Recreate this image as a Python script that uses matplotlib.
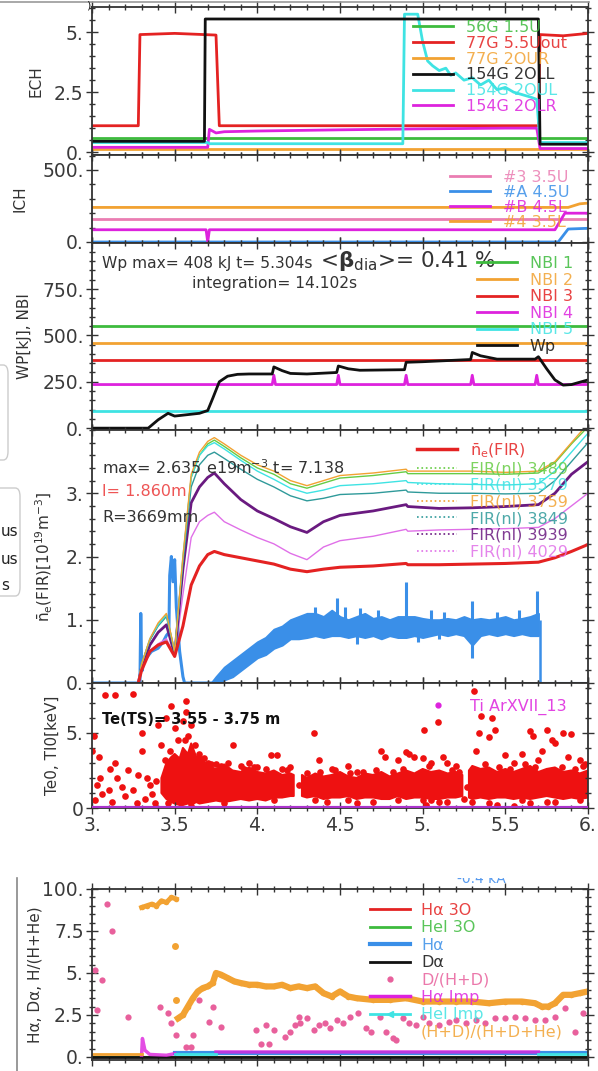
"""
Plasma discharge overview - ECH / ICH / NBI / density / Te / H-alpha traces.
"""

import numpy as np
import matplotlib
matplotlib.use("Agg")
import matplotlib.pyplot as plt
from matplotlib.ticker import MultipleLocator
from matplotlib.lines import Line2D
from matplotlib.patches import FancyBboxPatch

# ---- Data ----

x_ticks = [3.0, 3.5, 4.0, 4.5, 5.0, 5.5, 6.0]
x_ticklabels = ["3.", "3.5", "4.", "4.5", "5.", "5.5", "6."]

# ECH
ech_labels = ["56G 1.5U", "77G 5.5Uout", "77G 2OUR", "154G 2OLL", "154G 2OUL", "154G 2OLR"]
t_56g = [3.0, 6.0]
p_56g = [0.58, 0.58]
t_77g_out = [3.0, 3.28, 3.29, 3.5, 3.75, 3.77, 5.70, 5.71, 5.85, 6.0]
p_77g_out = [1.1, 1.1, 4.9, 4.95, 4.88, 1.1, 1.1, 4.9, 4.85, 4.95]
t_77g_our = [3.0, 6.0]
p_77g_our = [0.13, 0.13]
t_154g_oll = [3.0, 3.68, 3.685, 5.70, 5.71, 6.0]
p_154g_oll = [0.45, 0.45, 5.55, 5.55, 0.33, 0.33]
t_154g_oul = [3.0, 3.70, 3.71, 4.88, 4.89, 4.97, 5.0, 5.03, 5.06, 5.1, 5.14, 5.17, 5.2, 5.25,
              5.3, 5.35, 5.4, 5.45, 5.5, 5.55, 5.6, 5.65, 5.69, 5.71, 6.0]
p_154g_oul = [0.4, 0.4, 0.35, 0.35, 5.75, 5.75, 4.6, 3.8, 3.6, 3.4, 3.5, 3.2, 3.3, 3.0,
              3.1, 2.8, 3.0, 2.6, 2.7, 2.5, 2.4, 2.3, 2.2, 0.4, 0.4]
t_154g_olr = [3.0, 3.70, 3.71, 3.75, 3.8, 4.0, 4.5, 5.0, 5.5, 5.69, 5.71, 6.0]
p_154g_olr = [0.2, 0.2, 0.95, 0.8, 0.85, 0.88, 0.93, 0.97, 1.0, 1.0, 0.15, 0.15]

# ICH
ich_labels = ["#3 3.5U", "#A 4.5U", "#B 4.5L", "#4 3.5L"]
t_ich3 = [3.0, 6.0]
p_ich3 = [160, 160]
t_ichA = [3.0, 5.82, 5.88, 6.0]
p_ichA = [0, 0, 90, 95]
t_ichB = [3.0, 3.69, 3.70, 3.71, 5.80, 5.86, 6.0]
p_ichB = [85, 85, 0, 85, 85, 200, 200]
t_ich4 = [3.0, 5.88, 5.95, 6.0]
p_ich4 = [240, 240, 265, 270]

# NBI and stored energy
nbi_labels = ["NBI 1", "NBI 2", "NBI 3", "NBI 4", "NBI 5", "Wp"]
t_nbi = [3.0, 6.0]
p_nbi1 = [550, 550]
p_nbi2 = [460, 460]
p_nbi3 = [370, 370]
p_nbi5 = [90, 90]
t_nbi4 = [3.0, 4.09, 4.10, 4.11, 4.48, 4.49, 4.50, 4.89, 4.90, 4.91,
          5.29, 5.30, 5.31, 5.68, 5.69, 5.70, 6.0]
p_nbi4 = [235, 235, 285, 235, 235, 285, 235, 235, 285, 235,
          235, 285, 235, 235, 285, 235, 235]
t_wp = [3.0, 3.34, 3.40, 3.46, 3.50, 3.55, 3.65, 3.70, 3.73, 3.77, 3.82, 3.88, 3.95,
        4.09, 4.10, 4.15, 4.2, 4.3, 4.48, 4.49, 4.55, 4.62, 4.89, 4.9, 5.0, 5.29,
        5.30, 5.35, 5.45, 5.68, 5.70, 5.75, 5.80, 5.85, 5.9, 6.0]
wp = [0, 0, 45, 80, 65, 70, 80, 95, 160, 250, 280, 290, 292,
      292, 330, 310, 295, 292, 300, 335, 320, 312, 315, 355, 358, 370,
      408, 390, 372, 372, 385, 320, 260, 232, 235, 260]

# line averaged density (FIR)
t_fir = [3.28, 3.30, 3.35, 3.40, 3.45, 3.50, 3.55, 3.60, 3.65, 3.70, 3.74, 3.80, 3.90,
         4.00, 4.10, 4.20, 4.30, 4.40, 4.50, 4.70, 4.90, 4.91, 5.10, 5.30, 5.50, 5.70,
         5.80, 5.90, 6.00]
ne_fir = [0, 0.2, 0.5, 0.6, 0.65, 0.42, 0.9, 1.55, 1.85, 2.03, 2.08, 2.03, 1.98,
          1.93, 1.88, 1.80, 1.76, 1.80, 1.83, 1.85, 1.89, 1.87, 1.87, 1.88, 1.89, 1.91,
          1.98, 2.08, 2.19]
fir_3759 = [0, 0.3, 0.7, 0.95, 1.1, 0.5, 2.0, 3.3, 3.65, 3.82, 3.88, 3.78, 3.6,
            3.45, 3.35, 3.2, 3.12, 3.2, 3.28, 3.32, 3.38, 3.35, 3.35, 3.35, 3.33, 3.35,
            3.5, 3.8, 4.1]
fir_3489 = [0, 0.3, 0.68, 0.92, 1.08, 0.5, 1.95, 3.25, 3.6, 3.78, 3.84, 3.74, 3.56,
            3.4, 3.3, 3.15, 3.08, 3.16, 3.24, 3.28, 3.34, 3.31, 3.31, 3.31, 3.3, 3.32,
            3.48, 3.78, 4.05]
fir_3579 = [0, 0.3, 0.7, 0.92, 1.08, 0.5, 2.0, 3.25, 3.6, 3.75, 3.8, 3.7, 3.52,
            3.35, 3.22, 3.08, 3.0, 3.05, 3.12, 3.15, 3.2, 3.17, 3.15, 3.14, 3.13, 3.15,
            3.35, 3.65, 3.95]
fir_3849 = [0, 0.3, 0.68, 0.9, 1.05, 0.48, 1.9, 3.1, 3.45, 3.6, 3.65, 3.55, 3.38,
            3.22, 3.1, 2.96, 2.88, 2.92, 2.98, 3.0, 3.05, 3.02, 3.0, 3.0, 2.99, 3.0,
            3.2, 3.5, 3.8]
fir_3939 = [0, 0.25, 0.6, 0.8, 0.92, 0.45, 1.8, 2.85, 3.1, 3.25, 3.32, 3.15, 2.9,
            2.72, 2.6, 2.47, 2.38, 2.55, 2.65, 2.72, 2.82, 2.79, 2.76, 2.77, 2.79, 2.82,
            3.0, 3.3, 3.5]
fir_4029 = [0, 0.2, 0.5, 0.62, 0.7, 0.42, 1.4, 2.3, 2.55, 2.65, 2.7, 2.55, 2.42,
            2.3, 2.2, 2.05, 1.95, 2.15, 2.25, 2.32, 2.43, 2.4, 2.42, 2.43, 2.44, 2.46,
            2.6, 2.8, 3.0]
fir_labels = [r"$\bar{\rm n}_{\rm e}$(FIR)", "FIR(nl) 3489", "FIR(nl) 3579", "FIR(nl) 3759",
              "FIR(nl) 3849", "FIR(nl) 3939", "FIR(nl) 4029"]

# noisy blue trace in density panel
blue_t0 = [3.0, 3.29, 3.295, 3.30, 3.305, 3.31, 3.33, 3.36, 3.40, 3.43, 3.45, 3.465,
           3.47, 3.48, 3.49, 3.50, 3.51, 3.53, 3.55, 3.56, 3.72]
blue_v0 = [0, 0, 1.1, 0.3, 0.2, 0.35, 0.4, 0.5, 0.55, 0.65, 0.75, 0.8,
           1.7, 2.0, 1.6, 1.95, 1.2, 0.5, 0.1, 0.0, 0.0]
blue_t = [3.72, 3.75, 3.80, 3.85, 3.90, 3.95, 4.00, 4.05, 4.10, 4.15, 4.20, 4.25, 4.30,
          4.35, 4.40, 4.45, 4.50, 4.55, 4.60, 4.65, 4.70, 4.75, 4.80, 4.85, 4.90, 4.95,
          5.00, 5.05, 5.10, 5.15, 5.20, 5.25, 5.30, 5.35, 5.40, 5.45, 5.50, 5.55, 5.60,
          5.65, 5.70]
blue_lo = [0.0, 0.0, 0.05, 0.1, 0.2, 0.3, 0.4, 0.45, 0.55, 0.6, 0.7, 0.7, 0.72,
           0.75, 0.72, 0.75, 0.75, 0.72, 0.75, 0.72, 0.75, 0.7, 0.75, 0.72, 0.72, 0.75,
           0.72, 0.75, 0.78, 0.75, 0.78, 0.75, 0.6, 0.75, 0.78, 0.75, 0.78, 0.75, 0.78,
           0.75, 0.75]
blue_hi = [0.0, 0.1, 0.25, 0.35, 0.45, 0.55, 0.65, 0.72, 0.85, 0.9, 1.0, 1.05, 1.1,
           1.1, 1.05, 1.15, 1.05, 1.0, 1.05, 1.1, 1.02, 1.05, 1.0, 1.05, 1.05, 1.05,
           1.02, 1.0, 1.0, 1.02, 1.0, 1.05, 1.0, 1.02, 1.0, 1.02, 1.05, 1.0, 1.02,
           1.05, 1.1]
blue_spk_t = [4.35, 4.48, 4.53, 4.62, 4.73, 4.90, 5.05, 5.13, 5.30, 5.45, 5.58, 5.69]
blue_spk_v = [1.2, 1.35, 1.2, 1.18, 1.15, 1.6, 1.15, 1.12, 1.3, 1.12, 1.15, 1.45]
blue_dip_t = [4.60, 4.97, 5.10, 5.30]
blue_dip_v = [0.62, 0.65, 0.7, 0.4]
blue_end_t = [5.71, 6.0]
blue_end_v = [0.0, 0.0]

# Te (Thomson) - dense core band and individual points
te_core_t = [3.42, 3.45, 3.48, 3.5, 3.53, 3.55, 3.58, 3.6, 3.63, 3.65, 3.7, 3.75, 3.8,
             3.85, 3.9, 3.95, 4.0, 4.05, 4.1, 4.15, 4.2, 4.22, 4.24,
             4.27, 4.3, 4.35, 4.4, 4.45, 4.5, 4.55, 4.6, 4.65, 4.7, 4.75, 4.8, 4.85,
             4.9, 4.95, 5.0, 5.05, 5.1, 5.15, 5.2, 5.24, 5.26,
             5.28, 5.3, 5.35, 5.4, 5.45, 5.5, 5.55, 5.6, 5.65, 5.7, 5.75, 5.8, 5.85,
             5.9, 5.95, 6.0]
te_core_hi = [2.0, 3.0, 3.4, 3.6, 3.3, 4.0, 3.6, 4.3, 3.4, 3.5, 2.8, 2.6, 2.9,
              2.5, 2.4, 2.7, 2.4, 2.3, 2.5, 2.2, 2.3, 2.2, np.nan,
              2.2, 2.0, 2.3, 2.1, 2.2, 2.4, 2.1, 2.0, 2.3, 2.2, 2.4, 2.1, 2.3,
              2.5, 2.3, 2.6, 2.4, 2.5, 2.3, 2.4, 2.2, np.nan,
              2.5, 2.8, 2.6, 2.7, 2.4, 2.6, 2.4, 2.6, 2.8, 2.4, 2.6, 2.7, 2.4,
              2.5, 2.3, 2.5]
te_core_lo = [1.0, 0.6, 0.4, 0.3, 0.2, 0.2, 0.3, 0.2, 0.4, 0.3, 0.4, 0.5, 0.4,
              0.5, 0.6, 0.5, 0.6, 0.5, 0.7, 0.7, 0.8, 0.8, np.nan,
              0.8, 0.7, 0.8, 0.6, 0.7, 0.7, 0.8, 0.6, 0.7, 0.7, 0.6, 0.6, 0.8,
              0.6, 0.7, 0.7, 0.6, 0.6, 0.7, 0.7, 0.8, np.nan,
              0.7, 0.6, 0.7, 0.6, 0.7, 0.7, 0.6, 0.7, 0.6, 0.7, 0.8, 0.7, 0.6,
              0.7, 0.6, 0.7]
te_t = [3.02, 3.03, 3.05, 3.04, 3.10, 3.12, 3.14, 3.15, 3.08, 3.14, 3.25, 3.00, 3.01,
        3.20, 3.22, 3.25, 3.28, 3.30, 3.30, 3.33, 3.32, 3.35, 3.38, 3.40, 3.42, 3.44,
        3.45, 3.48, 3.50, 3.52, 3.55, 3.57, 3.57, 3.58, 3.60, 3.62, 3.65, 3.68, 3.70,
        3.75, 3.82, 3.85, 3.90, 3.95, 4.00, 4.08, 4.12, 4.15, 4.20, 4.34, 4.37, 4.45,
        4.50, 4.55, 4.60, 4.75, 4.77, 4.85, 4.90, 4.92, 4.95, 5.00, 5.01, 5.05, 5.09,
        5.12, 5.15, 5.20, 5.31, 5.32, 5.34, 5.35, 5.40, 5.42, 5.44, 5.50, 5.55, 5.60,
        5.65, 5.67, 5.70, 5.72, 5.75, 5.78, 5.80, 5.85, 5.88, 5.90, 5.95, 5.98,
        4.42, 4.60, 5.00, 5.02, 5.10, 5.25, 5.45, 5.55, 5.60, 5.75,
        3.47, 3.56, 3.66, 3.72, 3.78, 3.92, 3.98, 4.05, 4.18, 4.30, 4.38, 4.47, 4.56,
        4.64, 4.72, 4.82, 4.88, 5.04, 5.18, 5.22, 5.38, 5.46, 5.53, 5.62, 5.68, 5.84,
        5.92, 5.97, 3.46, 3.60, 3.80, 4.10, 4.35, 4.55, 4.70, 4.85, 5.05, 5.15, 5.30,
        5.40, 5.65, 5.80, 5.95, 3.18, 3.06, 3.36, 3.27, 3.11, 3.39, 4.25, 5.27]
te_v = [0.5, 1.5, 2.0, 3.4, 1.2, 0.4, 3.0, 2.0, 7.5, 7.5, 7.6, 3.8, 4.8,
        0.8, 2.5, 1.2, 2.2, 5.0, 3.8, 2.0, 0.6, 1.5, 0.3, 5.5, 4.2, 3.2,
        6.0, 6.8, 5.3, 4.5, 5.8, 7.1, 6.4, 4.8, 5.5, 4.2, 3.6, 3.3, 3.0,
        2.9, 3.0, 4.2, 2.8, 3.0, 2.7, 3.5, 3.5, 2.6, 2.7, 5.0, 3.2, 2.6,
        2.2, 2.8, 2.4, 3.8, 3.4, 3.2, 3.7, 3.6, 3.4, 3.3, 5.2, 3.0, 5.7,
        3.4, 3.0, 2.8, 7.8, 3.8, 5.0, 6.1, 4.7, 6.0, 5.2, 3.5, 3.0, 3.6,
        5.1, 4.8, 3.2, 3.8, 5.2, 4.5, 4.3, 5.0, 3.4, 4.9, 3.2, 2.9,
        0.4, 0.3, 0.5, 0.2, 0.4, 0.6, 0.2, 0.1, 0.5, 0.4,
        3.8, 4.5, 3.2, 2.9, 2.8, 2.6, 2.7, 2.6, 2.5, 2.3, 2.4, 2.5, 2.3,
        2.4, 2.5, 2.4, 2.6, 2.8, 2.5, 2.4, 2.9, 2.7, 2.6, 2.9, 2.7, 2.7,
        2.6, 2.8, 0.3, 0.1, 0.3, 0.5, 0.5, 0.5, 0.4, 0.5, 0.5, 0.4, 0.4,
        0.3, 0.3, 0.4, 0.5, 1.4, 0.9, 0.9, 0.3, 2.6, 1.8, 1.5, 1.4]
ti_t = [3.0, 6.0]
ti_v = [0.0, 0.0]

# H-alpha panel
ha_labels = ["H\u03b1 3O", "HeI 3O", "H\u03b1", "D\u03b1", "D/(H+D)", "H\u03b1 Imp",
             "HeI Imp", "(H+D)/(H+D+He)"]
ratio_t = [3.30, 3.33, 3.36, 3.39, 3.42, 3.45, 3.48, 3.51]
ratio_v = [8.9, 9.0, 9.1, 9.0, 9.3, 9.2, 9.5, 9.4]
ratio_iso_t = [3.505, 3.51]
ratio_iso_v = [6.6, 3.4]
ratio2_t = [3.52, 3.55, 3.58, 3.61, 3.64, 3.67, 3.70, 3.73, 3.75, 3.78, 3.82, 3.86,
            3.90, 3.95, 4.00, 4.05, 4.10, 4.15, 4.20, 4.25, 4.30, 4.35, 4.40, 4.45,
            4.50, 4.55, 4.60, 4.70, 4.80, 4.90, 5.00, 5.10, 5.20, 5.30, 5.40, 5.50,
            5.60, 5.68, 5.72, 5.76, 5.80, 5.85, 5.90, 5.95, 6.00]
ratio2_v = [2.3, 2.5, 3.0, 3.5, 3.9, 4.1, 4.2, 4.4, 5.0, 4.9, 4.7, 4.5,
            4.4, 4.3, 4.3, 4.2, 4.2, 4.3, 4.1, 4.2, 4.1, 4.2, 3.8, 3.6,
            3.9, 3.6, 3.5, 3.4, 3.4, 3.5, 3.3, 3.3, 3.3, 3.3, 3.2, 3.3,
            3.3, 3.2, 3.0, 3.0, 3.2, 3.7, 3.7, 3.8, 3.9]
ratio_pre_t = [3.0, 3.3]
ratio_pre_v = [0.2, 0.2]
dhd_t = [3.09, 3.12, 3.02, 3.06, 3.03, 3.22, 3.41, 3.46, 3.48, 3.51, 3.57, 3.60,
         3.61, 3.65, 3.71, 3.73, 3.78, 3.99, 4.02, 4.05, 4.07, 4.10, 4.17, 4.20,
         4.23, 4.25, 4.26, 4.30, 4.34, 4.37, 4.41, 4.44, 4.48, 4.52, 4.56, 4.61,
         4.66, 4.69, 4.74, 4.78, 4.82, 4.84, 4.88, 4.92, 4.96, 5.00, 5.04, 5.10,
         5.16, 5.20, 5.26, 5.32, 5.38, 5.44, 5.50, 5.56, 5.62, 5.68, 5.74, 5.80,
         5.86, 5.92, 5.97]
dhd_v = [9.1, 7.5, 5.2, 4.6, 2.8, 2.4, 3.0, 2.6, 2.0, 1.3, 0.6, 0.6,
         1.3, 3.4, 2.1, 3.0, 1.8, 1.6, 0.8, 1.9, 0.8, 1.6, 1.2, 1.5,
         1.9, 2.4, 2.0, 2.3, 1.6, 1.9, 2.0, 1.7, 2.2, 2.0, 2.4, 2.6,
         1.7, 1.5, 2.4, 1.5, 1.1, 1.0, 2.3, 2.0, 1.9, 2.4, 2.0, 1.9,
         2.1, 2.2, 2.0, 2.2, 2.0, 2.3, 2.3, 2.4, 2.3, 2.2, 2.2, 2.4,
         2.9, 1.5, 2.6]
halpha_t = [3.5, 6.0]
halpha_v = [0.22, 0.22]
ha_imp_t = [3.30, 3.305, 3.32, 3.35, 3.45, 3.50, 3.51, 3.75, 5.70]
ha_imp_v = [0.1, 1.1, 0.4, 0.15, 0.1, 0.2, np.nan, 0.3, 0.3]
hei_imp_t = [3.5, 3.75, np.nan, 5.7, 6.0]
hei_imp_v = [0.15, 0.15, np.nan, 0.2, 0.2]
zero_t = [3.0, 6.0]
zero_v = [0.0, 0.0]

# ---- Colours ----
GREEN = "#3dbb3d"
RED = "#e42222"
ORANGE = "#f2a232"
BLACK = "#111111"
CYAN = "#3fe3e3"
MAGENTA = "#dd22dd"
PINK = "#ea7db2"
BLUE = "#3a8fe8"
TEAL = "#2f9a9a"
LIME = "#66cc44"
PURPLE = "#6a1a80"
VIOLET = "#e070e8"
HOTPINK = "#e8609c"
TE_RED = "#ee1111"

# ---- Layout helpers (pixel geometry of the reference) ----
W_PX, H_PX = 598, 1071
X0, X1 = 92, 588

fig = plt.figure(figsize=(W_PX / 100, H_PX / 100), dpi=100)
fig.patch.set_facecolor("white")


def add_panel(top, bottom):
    return fig.add_axes([X0 / W_PX, 1 - bottom / H_PX, (X1 - X0) / W_PX, (bottom - top) / H_PX])


def style_panel(ax, ylim, yticks, ylabels, yminor, ylabel, label_x, xlabels=False):
    ax.set_xlim(3.0, 6.0)
    ax.set_ylim(*ylim)
    ax.set_xticks(x_ticks)
    ax.set_xticklabels(x_ticklabels if xlabels else [])
    ax.xaxis.set_minor_locator(MultipleLocator(0.1))
    ax.set_yticks(yticks)
    ax.set_yticklabels(ylabels)
    ax.yaxis.set_minor_locator(MultipleLocator(yminor))
    ax.tick_params(which="both", direction="inout", top=True, right=True,
                   color="#333333", width=1.0)
    ax.tick_params(which="major", length=8, labelsize=13.5, labelcolor="#3a3a3a", pad=2)
    ax.tick_params(which="minor", length=4)
    ax.set_ylabel(ylabel, fontsize=11, color="#333333")
    ax.yaxis.set_label_coords((label_x - X0) / (X1 - X0), 0.5)
    for s in ax.spines.values():
        s.set_linewidth(1.3)
        s.set_color("#333333")


def place_legend(ax, top, bottom, x_px, y_px, fontsize, spacing, hl, pad, handles=None,
                 labels=None, alpha=0.85):
    bx = (x_px - X0) / (X1 - X0)
    by = (bottom - y_px) / (bottom - top)
    kw = dict(loc="upper left", bbox_to_anchor=(bx, by), frameon=False, fontsize=fontsize,
              labelspacing=spacing, handlelength=hl, handletextpad=pad, borderpad=0,
              borderaxespad=0, labelcolor="linecolor", numpoints=1)
    if handles is not None:
        leg = ax.legend(handles, labels, **kw)
    else:
        leg = ax.legend(**kw)
    for t in leg.get_texts():
        t.set_alpha(alpha)
    return leg


# ---- ECH ----
P_ECH = (7, 155)
ax = add_panel(*P_ECH)
ax.plot(t_56g, p_56g, color=GREEN, lw=2, label=ech_labels[0])
ax.plot(t_77g_out, p_77g_out, color=RED, lw=2, label=ech_labels[1])
ax.plot(t_77g_our, p_77g_our, color=ORANGE, lw=2, label=ech_labels[2])
ax.plot(t_154g_oul, p_154g_oul, color=CYAN, lw=2, label=ech_labels[4], zorder=2.1)
ax.plot(t_154g_oll, p_154g_oll, color=BLACK, lw=2, label=ech_labels[3], zorder=2.2)
ax.plot(t_154g_olr, p_154g_olr, color=MAGENTA, lw=2, label=ech_labels[5])
h, l = ax.get_legend_handles_labels()
hh = [h[l.index(s)] for s in ech_labels]
style_panel(ax, (-0.12, 6.05), [0, 2.5, 5], ["0.", "2.5", "5."], 0.5, "ECH", 43)
place_legend(ax, *P_ECH, 413, 20, 11.5, 0.05, 2.5, 0.8, handles=hh, labels=ech_labels)

# ---- ICH ----
P_ICH = (155, 243)
ax = add_panel(*P_ICH)
ax.plot(t_ich3, p_ich3, color=PINK, lw=2, label=ich_labels[0])
ax.plot(t_ichA, p_ichA, color=BLUE, lw=2, label=ich_labels[1])
ax.plot(t_ichB, p_ichB, color=MAGENTA, lw=2, label=ich_labels[2])
ax.plot(t_ich4, p_ich4, color=ORANGE, lw=2, label=ich_labels[3])
style_panel(ax, (-7, 604), [0, 500], ["0.", "500."], 100, "ICH", 28)
place_legend(ax, *P_ICH, 450, 170, 11.5, 0.0, 2.5, 0.8)

# ---- NBI / Wp ----
P_NBI = (243, 430)
ax = add_panel(*P_NBI)
ax.plot(t_nbi, p_nbi1, color=GREEN, lw=2, label=nbi_labels[0])
ax.plot(t_nbi, p_nbi2, color=ORANGE, lw=2, label=nbi_labels[1])
ax.plot(t_nbi, p_nbi3, color=RED, lw=2, label=nbi_labels[2])
ax.plot(t_nbi4, p_nbi4, color=MAGENTA, lw=2, label=nbi_labels[3])
ax.plot(t_nbi, p_nbi5, color=CYAN, lw=2, label=nbi_labels[4])
ax.plot(t_wp, wp, color=BLACK, lw=2, label=nbi_labels[5])
style_panel(ax, (-10, 998), [0, 250, 500, 750], ["0.", "250.", "500.", "750."], 50,
            "WP[kJ], NBI", 32)
place_legend(ax, *P_NBI, 477, 256, 11.5, 0.1, 2.5, 0.8)
ax.text((102 - X0) / (X1 - X0), (430 - 263) / 187, "Wp max= 408 kJ t= 5.304s",
        transform=ax.transAxes, fontsize=11.2, color="#333333", va="center")
ax.text((320 - X0) / (X1 - X0), (430 - 261) / 187,
        r"<$\mathbf{\beta}_{\rm dia}$>= 0.41 %",
        transform=ax.transAxes, fontsize=15.5, color="#333333", va="center")
ax.text((192 - X0) / (X1 - X0), (430 - 283) / 187, "integration= 14.102s",
        transform=ax.transAxes, fontsize=11.2, color="#333333", va="center")

# ---- density ----
P_NE = (430, 683)
ax = add_panel(*P_NE)
ax.plot(blue_t0, blue_v0, color=BLUE, lw=2.2, zorder=1.5)
ax.fill_between(blue_t, blue_lo, blue_hi, color=BLUE, lw=1.5, edgecolor=BLUE, zorder=1.5)
ax.vlines(blue_spk_t, 0.9, blue_spk_v, color=BLUE, lw=2.2, zorder=1.5)
ax.vlines(blue_dip_t, blue_dip_v, 0.9, color=BLUE, lw=2.2, zorder=1.5)
ax.vlines([5.71], 0.0, 1.0, color=BLUE, lw=1.8, zorder=1.5)
ax.plot(blue_end_t, blue_end_v, color=BLUE, lw=1.5, zorder=1.5)
ax.plot(t_fir, fir_4029, color=VIOLET, lw=1.0)
ax.plot(t_fir, fir_3939, color=PURPLE, lw=2.0)
ax.plot(t_fir, fir_3489, color=LIME, lw=1.0)
ax.plot(t_fir, fir_3849, color=TEAL, lw=1.0)
ax.plot(t_fir, fir_3579, color=CYAN, lw=1.0)
ax.plot(t_fir, fir_3759, color=ORANGE, lw=1.0)
ax.plot(t_fir, ne_fir, color=RED, lw=2.2)
fir_handles = [Line2D([], [], color=RED, lw=2.5),
               Line2D([], [], color=LIME, lw=1.2, ls=":"),
               Line2D([], [], color=CYAN, lw=1.2, ls=":"),
               Line2D([], [], color=ORANGE, lw=1.2, ls=":"),
               Line2D([], [], color=TEAL, lw=1.2, ls=":"),
               Line2D([], [], color=PURPLE, lw=1.2, ls=":"),
               Line2D([], [], color=VIOLET, lw=1.2, ls=":")]
style_panel(ax, (0, 4.0), [0, 1, 2, 3], ["0.", "1.", "2.", "3."], 0.2,
            r"$\bar{\rm n}_{\rm e}$(FIR)[10$^{19}$m$^{-3}$]", 55)
place_legend(ax, *P_NE, 417, 441, 11.5, 0.1, 2.5, 0.8, handles=fir_handles,
             labels=fir_labels)
ax.text((102 - X0) / (X1 - X0), (683 - 468) / 253, r"max= 2.635 e19m$^{-3}$ t= 7.138",
        transform=ax.transAxes, fontsize=11.5, color="#333333", va="center")
ax.text((102 - X0) / (X1 - X0), (683 - 492) / 253, "l= 1.860m",
        transform=ax.transAxes, fontsize=11.5, color="#ee5555", va="center")
ax.text((102 - X0) / (X1 - X0), (683 - 518) / 253, "R=3669mm",
        transform=ax.transAxes, fontsize=11.5, color="#333333", va="center")

# ---- Te / Ti ----
P_TE = (683, 808)
ax = add_panel(*P_TE)
ax.fill_between(te_core_t, te_core_lo, te_core_hi, facecolor=TE_RED, edgecolor=TE_RED,
                lw=1.5)
ax.plot(te_t, te_v, "o", color=TE_RED, ms=4.8, mew=0)
ax.plot(ti_t, ti_v, color="#aa33cc", lw=3, zorder=3)
style_panel(ax, (0, 8.33), [0, 5], ["0", "5."], 1, "Te0, TI0[keV]", 60, xlabels=True)
ti_handle = [Line2D([], [], color=MAGENTA, ls="none", marker="o", ms=3.5)]
place_legend(ax, *P_TE, 430, 699, 11.5, 0.0, 1.0, 1.5, handles=ti_handle,
             labels=["Ti ArXVII_13"])
ax.text((102 - X0) / (X1 - X0), (808 - 720) / 125, "Te(TS)= 3.55 - 3.75 m",
        transform=ax.transAxes, fontsize=10.5, fontweight="bold", color="#111111",
        va="center")

# ---- H-alpha ----
P_HA = (889, 1060)
ax = add_panel(*P_HA)
ax.plot(zero_t, zero_v, color=RED, lw=1.5, label=ha_labels[0])
ax.plot(zero_t, zero_v, color=GREEN, lw=1.5, label=ha_labels[1])
ax.plot(halpha_t, halpha_v, color=BLUE, lw=3, label=ha_labels[2])
ax.plot(zero_t, zero_v, color=BLACK, lw=2, label=ha_labels[3])
ax.plot(dhd_t, dhd_v, "o", color=HOTPINK, ms=4.5, mew=0, label=ha_labels[4])
ax.plot(ha_imp_t, ha_imp_v, color=MAGENTA, lw=2.5, alpha=0.8, label=ha_labels[5])
ax.plot(hei_imp_t, hei_imp_v, color=CYAN, lw=2, label=ha_labels[6])
ax.plot(ratio_t, ratio_v, color=ORANGE, lw=3.5, marker="o", ms=4, mew=0)
ax.plot(ratio_iso_t, ratio_iso_v, "o", color=ORANGE, ms=5, mew=0)
ax.plot(ratio2_t, ratio2_v, color=ORANGE, lw=4.5, marker="o", ms=4, mew=0,
        label=ha_labels[7])
ax.plot(ratio_pre_t, ratio_pre_v, color=ORANGE, lw=2)
style_panel(ax, (-0.18, 10.0), [0, 2.5, 5, 7.5, 10], ["0.", "2.5", "5.", "7.5", "100."],
            0.5, "H\u03b1, D\u03b1, H/(H+He)", 42)
ha_handles = [Line2D([], [], color=RED, lw=2), Line2D([], [], color=GREEN, lw=2),
              Line2D([], [], color=BLUE, lw=3), Line2D([], [], color=BLACK, lw=2),
              Line2D([], [], color=HOTPINK, ls="none", marker="o", ms=3.5),
              Line2D([], [], color=MAGENTA, lw=2.5),
              Line2D([], [], color=CYAN, lw=2, marker="<", ms=4),
              Line2D([], [], color=ORANGE, ls="none", marker="o", ms=0.1)]
place_legend(ax, *P_HA, 370, 903, 11.5, 0.15, 2.5, 0.7, handles=ha_handles,
             labels=ha_labels)

# ---- bits of neighbouring figures cropped into the screenshot ----
fig.add_artist(Line2D([0, 0.985], [1 - 1.5 / H_PX] * 2, color="#999999", lw=1.2))
fig.text(88 / W_PX, 1 - 6 / H_PX, ")", fontsize=8, color="#222222", ha="center",
         va="center")
fig.add_artist(FancyBboxPatch((-20 / W_PX, 1 - 460 / H_PX), 28 / W_PX, 95 / H_PX,
                              boxstyle="round,pad=0,rounding_size=0.008",
                              transform=fig.transFigure, ec="#cccccc", fc="none", lw=1))
fig.add_artist(FancyBboxPatch((-30 / W_PX, 1 - 596 / H_PX), 50 / W_PX, 108 / H_PX,
                              boxstyle="round,pad=0,rounding_size=0.008",
                              transform=fig.transFigure, ec="#cccccc", fc="none", lw=1))
for txt, ypx in [("us", 532), ("us", 559), ("s", 586)]:
    fig.text(1 / W_PX, 1 - ypx / H_PX, txt, fontsize=11, color="#222222", ha="left",
             va="center")
fig.add_artist(Line2D([17 / W_PX] * 2, [1 - 878 / H_PX, 0], color="#888888", lw=1.2))
clip_ax = fig.add_axes([X0 / W_PX, 1 - 887 / H_PX, (X1 - X0) / W_PX, 9 / H_PX])
clip_ax.axis("off")
clip_ax.set_xlim(0, 1)
clip_ax.set_ylim(0, 1)
clip_ax.text((457 - X0) / (X1 - X0), 0.15, "-0.4 kA", fontsize=10, color="#5599ee",
             va="bottom", clip_on=True)

fig.savefig("out.png", dpi=100, facecolor="white")
